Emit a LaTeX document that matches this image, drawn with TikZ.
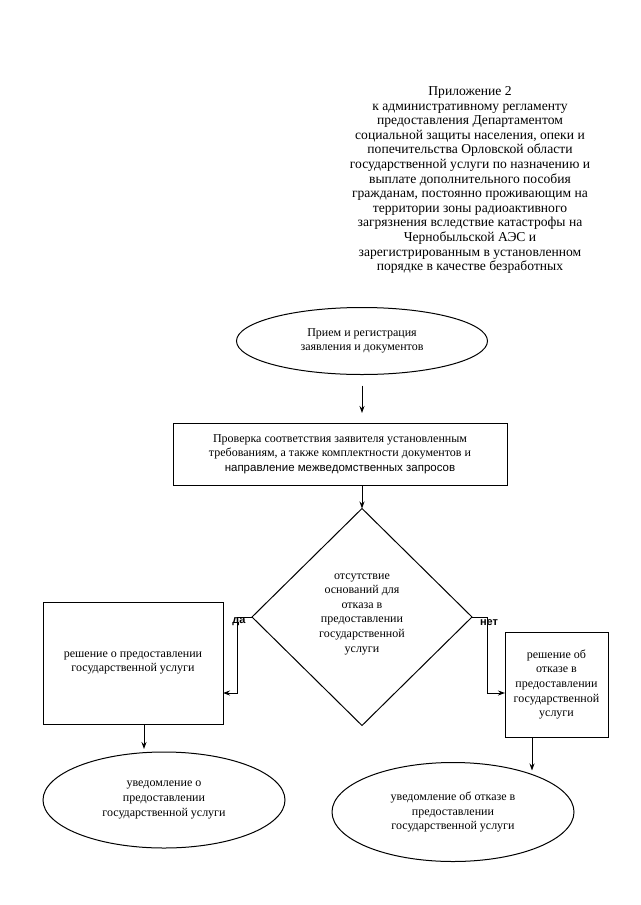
\documentclass[tikz,border=0pt]{standalone}
\usepackage{fontspec}
\setmainfont{Liberation Serif}
\newfontfamily\arialf{Liberation Sans}
\usetikzlibrary{shapes.geometric,arrows.meta}
\begin{document}
\begin{tikzpicture}[x=1pt,y=-1pt,
  every node/.style={inner sep=0pt,outer sep=0pt},
  ln/.style={draw=black,line width=1pt},
  arr/.style={ln,-{Stealth[length=7pt,width=5pt]}},
  txt/.style={align=center,font=\fontsize{12}{14.6}\selectfont},
  ovalbox/.style={ln,ellipse,txt},
  rectbox/.style={ln,rectangle,txt},
  lbl/.style={font=\arialf\bfseries\fontsize{11}{12}\selectfont}]
\useasboundingbox (0,0) rectangle (640,905);
% note
\node[align=center,font=\fontsize{13.6}{14.6}\selectfont] (note) at (470,180)
 {Приложение 2\\
  к административному регламенту\\
  предоставления Департаментом\\
  социальной защиты населения, опеки и\\
  попечительства Орловской области\\
  государственной услуги по назначению и\\
  выплате дополнительного пособия\\
  гражданам, постоянно проживающим на\\
  территории зоны радиоактивного\\
  загрязнения вследствие катастрофы на\\
  Чернобыльской АЭС и\\
  зарегистрированным в установленном\\
  порядке в качестве безработных};
% flowchart
\node[ovalbox,minimum width=251,minimum height=67] (e1) at (362,341)
 {Прием и регистрация\\заявления и документов};
\node[rectbox,minimum width=334,minimum height=62] (r1) at (340,454)
 {Проверка соответствия заявителя установленным\\
  требованиям, а также комплектности документов и\\
  {\arialf\fontsize{11.5}{14.6}\selectfont направление межведомственных запросов}};
\node[ln,diamond,minimum width=220,minimum height=217] (d) at (362,617) {};
\node[txt] (dt) at (362,614) {отсутствие\\оснований для\\отказа в\\предоставлении\\государственной\\услуги};
\node[rectbox,minimum width=180,minimum height=122] (lr) at (133,663)
 {решение о предоставлении\\государственной услуги};
\node[rectbox,minimum width=103,minimum height=105] (rr) at (556.5,684.5)
 {решение об\\отказе в\\предоставлении\\государственной\\услуги};
\node[ovalbox,minimum width=242,minimum height=96] (le) at (164,800)
 {уведомление о\\предоставлении\\государственной услуги};
\node[ovalbox,minimum width=242,minimum height=99] (re) at (453,812)
 {уведомление об отказе в\\предоставлении\\государственной услуги};
% connectors
\draw[arr,shorten <=11pt,shorten >=10pt] (e1.south) -- (e1.south |- r1.north);
\draw[arr] (d.north |- r1.south) -- (d.north);
\draw[arr] (d.west) -- ++(-15,0) |- ([yshift=-30]lr.east);
\draw[arr] (d.east) -- ++(15,0) |- ([yshift=-8.5]rr.west);
\draw[arr,shorten >=3pt] ([xshift=11]lr.south) -- ([xshift=11]lr.south |- le.north);
\draw[arr,shorten >=-8pt] ([xshift=-24.5]rr.south) -- ([xshift=-24.5]rr.south |- re.north);
\node[lbl] (yes) at (239,622) {да};
\node[lbl] (no) at (489,623) {нет};
\end{tikzpicture}
\end{document}
